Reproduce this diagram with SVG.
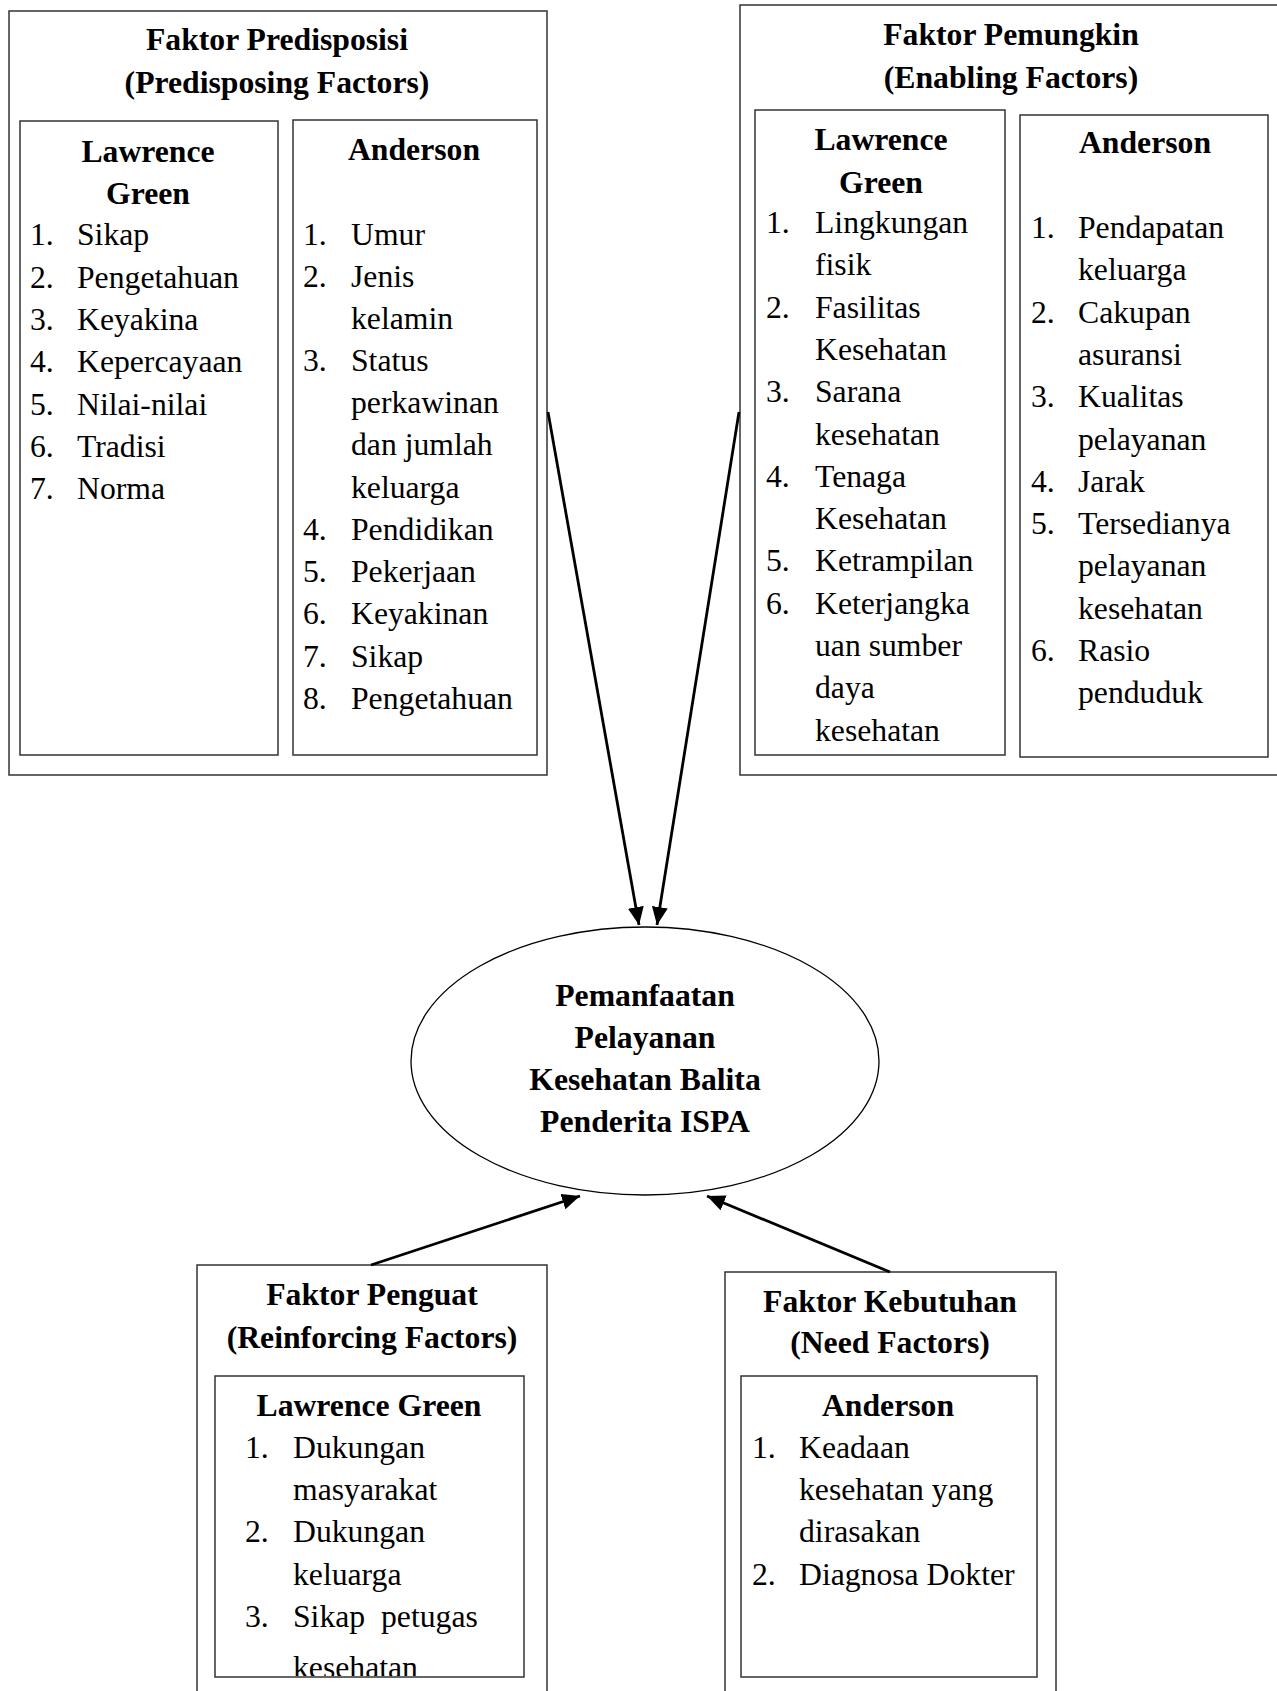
<svg xmlns="http://www.w3.org/2000/svg" width="1277" height="1691" viewBox="0 0 1277 1691">
<style>
  .box { fill: none; stroke: #333; stroke-width: 1.5; }
  .t { font-family: "Liberation Serif", "Times New Roman", serif; font-size: 31.7px; fill: #000; }
  .b { font-weight: bold; text-anchor: middle; }
  .conn { stroke: #000; stroke-width: 2.8; fill: none; marker-end: url(#arrow); }
</style>
<defs>
  <marker id="arrow" viewBox="0 0 18 16" refX="18" refY="8" markerWidth="18" markerHeight="16" markerUnits="userSpaceOnUse" orient="auto">
    <path d="M0,0 L18,8 L0,16 z" fill="#000"/>
  </marker>
  <clipPath id="clipR"><rect x="215" y="1376" width="309" height="300"/></clipPath>
</defs>
<rect width="1277" height="1691" fill="#fff"/>

<g id="predisposing">
  <rect class="box" x="9" y="11" width="538" height="764"/>
  <text class="t b" x="277" y="50">Faktor Predisposisi</text>
  <text class="t b" x="277" y="93">(Predisposing Factors)</text>
  <g id="predisposing-green">
    <rect class="box" x="20" y="121" width="258" height="634"/>
    <text class="t b" x="148" y="162">Lawrence</text>
    <text class="t b" x="148" y="204">Green</text>
    <text class="t"><tspan x="30" y="245">1.</tspan><tspan x="30" y="287.5">2.</tspan><tspan x="30" y="330">3.</tspan><tspan x="30" y="372">4.</tspan><tspan x="30" y="414.5">5.</tspan><tspan x="30" y="457">6.</tspan><tspan x="30" y="499">7.</tspan></text>
    <text class="t"><tspan x="77" y="245">Sikap</tspan><tspan x="77" y="287.5">Pengetahuan</tspan><tspan x="77" y="330">Keyakina</tspan><tspan x="77" y="372">Kepercayaan</tspan><tspan x="77" y="414.5">Nilai-nilai</tspan><tspan x="77" y="457">Tradisi</tspan><tspan x="77" y="499">Norma</tspan></text>
  </g>
  <g id="predisposing-anderson">
    <rect class="box" x="293" y="120" width="244" height="635"/>
    <text class="t b" x="414" y="160">Anderson</text>
    <text class="t"><tspan x="303" y="245">1.</tspan><tspan x="303" y="287">2.</tspan><tspan x="303" y="371">3.</tspan><tspan x="303" y="540">4.</tspan><tspan x="303" y="582">5.</tspan><tspan x="303" y="624">6.</tspan><tspan x="303" y="667">7.</tspan><tspan x="303" y="709">8.</tspan></text>
    <text class="t"><tspan x="351" y="245">Umur</tspan><tspan x="351" y="287">Jenis</tspan><tspan x="351" y="329">kelamin</tspan><tspan x="351" y="371">Status</tspan><tspan x="351" y="413">perkawinan</tspan><tspan x="351" y="455">dan jumlah</tspan><tspan x="351" y="498">keluarga</tspan><tspan x="351" y="540">Pendidikan</tspan><tspan x="351" y="582">Pekerjaan</tspan><tspan x="351" y="624">Keyakinan</tspan><tspan x="351" y="667">Sikap</tspan><tspan x="351" y="709">Pengetahuan</tspan></text>
  </g>
</g>

<g id="enabling">
  <rect class="box" x="740" y="5" width="545" height="770"/>
  <text class="t b" x="1011" y="45">Faktor Pemungkin</text>
  <text class="t b" x="1011" y="88">(Enabling Factors)</text>
  <g id="enabling-green">
    <rect class="box" x="755" y="110" width="250" height="645"/>
    <text class="t b" x="881" y="150">Lawrence</text>
    <text class="t b" x="881" y="193">Green</text>
    <text class="t"><tspan x="766" y="233">1.</tspan><tspan x="766" y="317.6">2.</tspan><tspan x="766" y="402.2">3.</tspan><tspan x="766" y="486.8">4.</tspan><tspan x="766" y="571.4">5.</tspan><tspan x="766" y="613.7">6.</tspan></text>
    <text class="t"><tspan x="815" y="233">Lingkungan</tspan><tspan x="815" y="275.3">fisik</tspan><tspan x="815" y="317.6">Fasilitas</tspan><tspan x="815" y="359.9">Kesehatan</tspan><tspan x="815" y="402.2">Sarana</tspan><tspan x="815" y="444.5">kesehatan</tspan><tspan x="815" y="486.8">Tenaga</tspan><tspan x="815" y="529.1">Kesehatan</tspan><tspan x="815" y="571.4">Ketrampilan</tspan><tspan x="815" y="613.7">Keterjangka</tspan><tspan x="815" y="656">uan sumber</tspan><tspan x="815" y="698.3">daya</tspan><tspan x="815" y="740.6">kesehatan</tspan></text>
  </g>
  <g id="enabling-anderson">
    <rect class="box" x="1020" y="115" width="248" height="642"/>
    <text class="t b" x="1145" y="153">Anderson</text>
    <text class="t"><tspan x="1031" y="238">1.</tspan><tspan x="1031" y="322.6">2.</tspan><tspan x="1031" y="407.2">3.</tspan><tspan x="1031" y="491.8">4.</tspan><tspan x="1031" y="534.1">5.</tspan><tspan x="1031" y="661">6.</tspan></text>
    <text class="t"><tspan x="1078" y="238">Pendapatan</tspan><tspan x="1078" y="280.3">keluarga</tspan><tspan x="1078" y="322.6">Cakupan</tspan><tspan x="1078" y="364.9">asuransi</tspan><tspan x="1078" y="407.2">Kualitas</tspan><tspan x="1078" y="449.5">pelayanan</tspan><tspan x="1078" y="491.8">Jarak</tspan><tspan x="1078" y="534.1">Tersedianya</tspan><tspan x="1078" y="576.4">pelayanan</tspan><tspan x="1078" y="618.7">kesehatan</tspan><tspan x="1078" y="661">Rasio</tspan><tspan x="1078" y="703.3">penduduk</tspan></text>
  </g>
</g>

<g id="outcome">
  <ellipse cx="645" cy="1061" rx="234" ry="134" fill="none" stroke="#000" stroke-width="1.3"/>
  <text class="t b" x="645" y="1006">Pemanfaatan</text>
  <text class="t b" x="645" y="1048">Pelayanan</text>
  <text class="t b" x="645" y="1090">Kesehatan Balita</text>
  <text class="t b" x="645" y="1132">Penderita ISPA</text>
</g>

<g id="reinforcing">
  <rect class="box" x="197" y="1265" width="350" height="440"/>
  <text class="t b" x="372" y="1305">Faktor Penguat</text>
  <text class="t b" x="372" y="1348">(Reinforcing Factors)</text>
  <g id="reinforcing-green">
    <rect class="box" x="215" y="1376" width="309" height="301"/>
    <text class="t b" x="369" y="1416">Lawrence Green</text>
    <text class="t"><tspan x="245" y="1458">1.</tspan><tspan x="245" y="1542">2.</tspan><tspan x="245" y="1627">3.</tspan></text>
    <text class="t" style="white-space:pre" clip-path="url(#clipR)"><tspan x="293" y="1458">Dukungan</tspan><tspan x="293" y="1500">masyarakat</tspan><tspan x="293" y="1542">Dukungan</tspan><tspan x="293" y="1585">keluarga</tspan><tspan x="293" y="1627">Sikap  petugas</tspan><tspan x="293" y="1678">kesehatan</tspan></text>
  </g>
</g>

<g id="need">
  <rect class="box" x="725" y="1272" width="331" height="440"/>
  <text class="t b" x="890" y="1312">Faktor Kebutuhan</text>
  <text class="t b" x="890" y="1353">(Need Factors)</text>
  <g id="need-anderson">
    <rect class="box" x="741" y="1376" width="296" height="301"/>
    <text class="t b" x="888" y="1416">Anderson</text>
    <text class="t"><tspan x="752" y="1458">1.</tspan><tspan x="752" y="1585">2.</tspan></text>
    <text class="t"><tspan x="799" y="1458">Keadaan</tspan><tspan x="799" y="1500">kesehatan yang</tspan><tspan x="799" y="1542">dirasakan</tspan><tspan x="799" y="1585">Diagnosa Dokter</tspan></text>
  </g>
</g>

<g id="connectors">
  <line class="conn" x1="548" y1="412" x2="639" y2="925"/>
  <line class="conn" x1="739" y1="412" x2="657" y2="925"/>
  <line class="conn" x1="371" y1="1265" x2="580" y2="1196"/>
  <line class="conn" x1="890" y1="1272" x2="707" y2="1196"/>
</g>
</svg>
